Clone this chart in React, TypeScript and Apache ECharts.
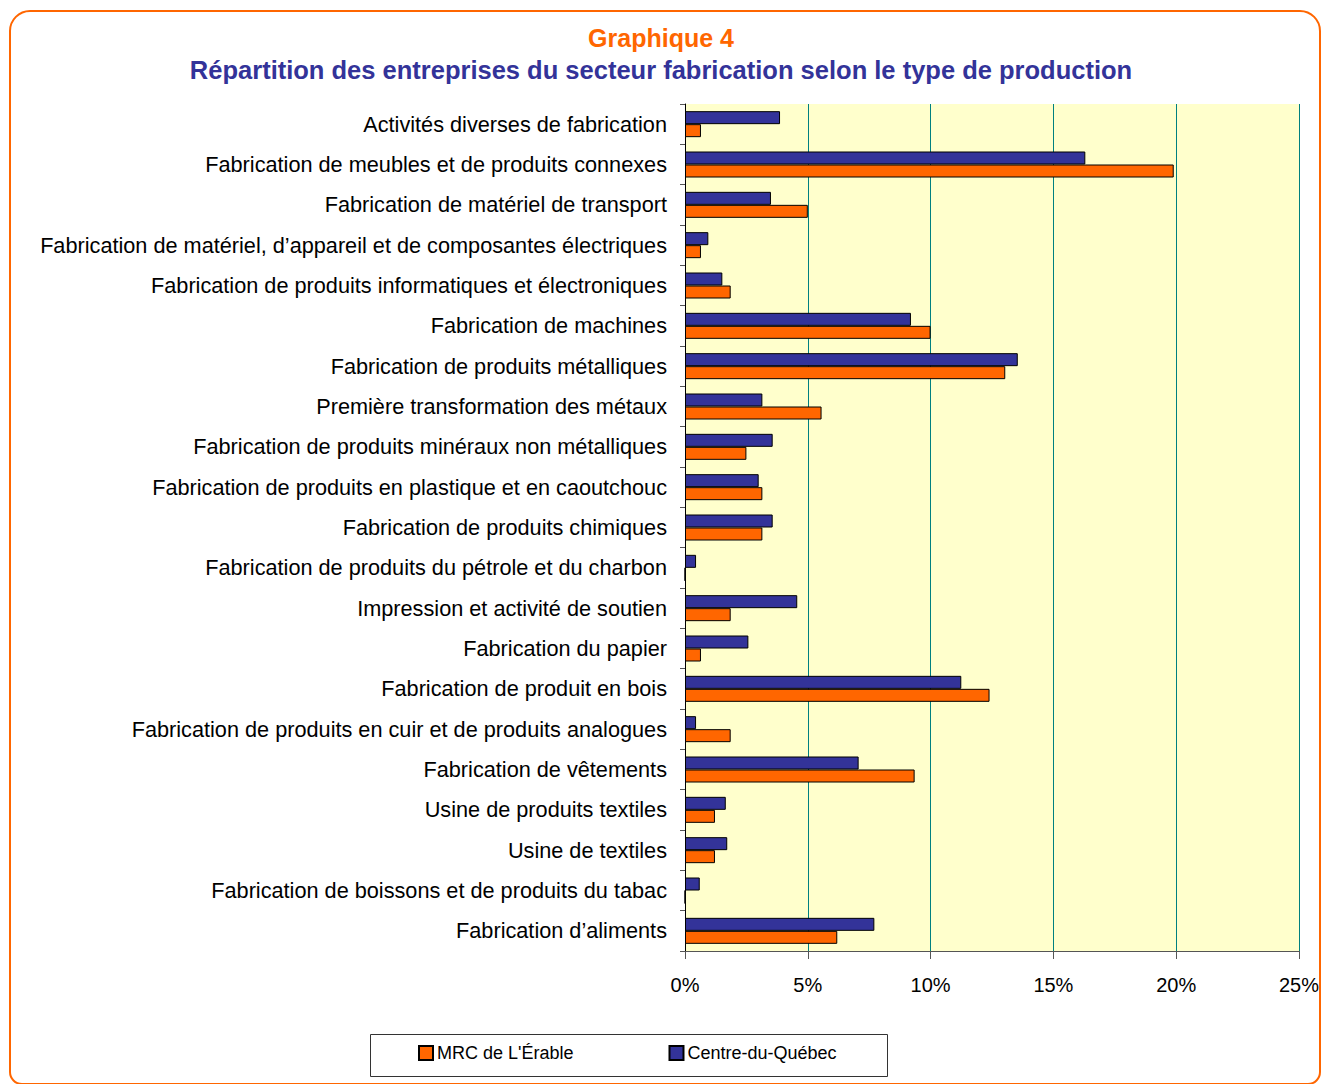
import React, { useEffect, useRef } from "react";
import * as echarts from "echarts";

const categories = [
  "Activités diverses de fabrication",
  "Fabrication de meubles et de produits connexes",
  "Fabrication de matériel de transport",
  "Fabrication de matériel, d’appareil et de composantes électriques",
  "Fabrication de produits informatiques et électroniques",
  "Fabrication de machines",
  "Fabrication de produits métalliques",
  "Première transformation des métaux",
  "Fabrication de produits minéraux non métalliques",
  "Fabrication de produits en plastique et en caoutchouc",
  "Fabrication de produits chimiques",
  "Fabrication de produits du pétrole et du charbon",
  "Impression et activité de soutien",
  "Fabrication du papier",
  "Fabrication de produit en bois",
  "Fabrication de produits en cuir et de produits analogues",
  "Fabrication de vêtements",
  "Usine de produits textiles",
  "Usine de textiles",
  "Fabrication de boissons et de produits du tabac",
  "Fabrication d’aliments",
];

const centreDuQuebec = [
  3.87, 16.3, 3.5, 0.95, 1.52, 9.2, 13.55, 3.15, 3.57, 3.0, 3.57, 0.45, 4.57,
  2.58, 11.25, 0.45, 7.07, 1.66, 1.72, 0.6, 7.71,
];

const mrcErable = [
  0.65, 19.9, 5.0, 0.65, 1.86, 10.0, 13.04, 5.56, 2.5, 3.15, 3.15, 0, 1.86,
  0.65, 12.4, 1.86, 9.35, 1.22, 1.22, 0, 6.2,
];

const xTicks = [0, 5, 10, 15, 20, 25];

const TITLE = "Graphique 4";
const SUBTITLE =
  "Répartition des entreprises du secteur fabrication selon le type de production";
const SERIES_MRC = "MRC de L'Érable";
const SERIES_CDQ = "Centre-du-Québec";

export default function App() {
  const ref = useRef<HTMLDivElement>(null);
  useEffect(() => {
    if (!ref.current) return;
    const chart = echarts.init(ref.current, null, { renderer: "svg" });
    const font = "Liberation Sans, Arial, sans-serif";
    chart.setOption({
      animation: false,
      backgroundColor: "#ffffff",
      textStyle: { fontFamily: font },
      graphic: [
        {
          type: "rect",
          shape: { x: 10, y: 11, width: 1310, height: 1073, r: [20, 20, 12, 12] },
          style: { fill: "none", stroke: "#FF6600", lineWidth: 2 },
          z: -1,
        },
        {
          type: "rect",
          shape: { x: 370.5, y: 1034.5, width: 517, height: 42 },
          style: { fill: "#ffffff", stroke: "#333333", lineWidth: 1 },
          z: 1,
        },
      ],
      title: [
        {
          text: TITLE,
          left: "center",
          top: 20,
          textStyle: { color: "#FF6600", fontSize: 25, fontWeight: "bold", fontFamily: font },
        },
        {
          text: SUBTITLE,
          left: "center",
          top: 52,
          textStyle: { color: "#333399", fontSize: 25.5, fontWeight: "bold", fontFamily: font },
        },
      ],
      legend: {
        data: [SERIES_MRC, SERIES_CDQ],
        left: 418,
        top: 1044,
        padding: 0,
        itemWidth: 14,
        itemHeight: 14,
        itemGap: 95,
        icon: "rect",
        z: 3,
        textStyle: { fontSize: 18, color: "#000", fontFamily: font, padding: [0, 0, 0, -1] },
      },
      grid: { left: 685, right: 23, top: 104, bottom: 133, containLabel: false, show: true, backgroundColor: "#FFFFCC", borderWidth: 0 },
      xAxis: {
        type: "value",
        min: 0,
        max: 25,
        interval: 5,
        axisLine: { show: true, lineStyle: { color: "#555555", width: 1 } },
        axisTick: { show: true, length: 8, lineStyle: { color: "#555555" } },
        splitLine: { show: true, lineStyle: { color: "#008080", width: 1 } },
        axisLabel: {
          formatter: (v: number) => (xTicks.includes(v) ? v + "%" : ""),
          fontSize: 20,
          color: "#000",
          margin: 24,
          fontFamily: font,
        },
      },
      yAxis: {
        type: "category",
        data: categories,
        inverse: true,
        axisLine: { show: true, lineStyle: { color: "#000000", width: 1 } },
        axisTick: { show: true, length: 5, inside: false, lineStyle: { color: "#555555" } },
        axisLabel: { fontSize: 21.7, color: "#000", margin: 18, fontFamily: font },
        splitLine: { show: false },
      },
      series: [
        {
          name: SERIES_CDQ,
          type: "bar",
          data: centreDuQuebec,
          barWidth: 13,
          barGap: "0%",
          itemStyle: { color: "#333399", borderColor: "#000", borderWidth: 1 },
        },
        {
          name: SERIES_MRC,
          type: "bar",
          data: mrcErable,
          barWidth: 13,
          barGap: "0%",
          itemStyle: { color: "#FF6600", borderColor: "#000", borderWidth: 1 },
        },
      ],
    });
    return () => chart.dispose();
  }, []);
  return <div ref={ref} style={{ width: 1322, height: 1084, position: "absolute", left: 0, top: 0 }} />;
}
